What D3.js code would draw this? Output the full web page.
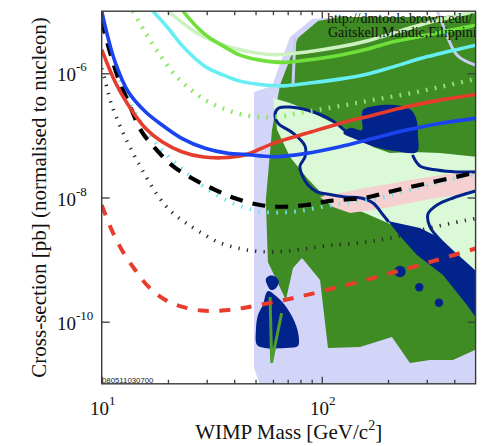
<!DOCTYPE html>
<html>
<head>
<meta charset="utf-8">
<script src="https://cdn.jsdelivr.net/npm/d3@7"></script>
<style>
  body { margin: 0; background: #fff; }
  svg { display: block; }
</style>
</head>
<body>
<svg id="chart" width="491" height="446"></svg>
<script>
// ---- axis ticks ----
const massMajorTicks = [10, 100];
const massMinorTicks = [20, 30, 40, 50, 60, 70, 80, 90, 200, 300, 400];
const massTickExponents = ["1", "2"];
const sigmaTicks = [1e-6, 1e-8, 1e-10];
const sigmaTickExponents = ["-6", "-8", "-10"];

// ---- limit curves: [WIMP mass GeV, cross-section pb] ----
const limitBlue = [[10,1.0e-5],[10.7,3.66e-6],[11.5,1.53e-6],[13.2,5.04e-7],[15.8,2.4e-7],[18.8,1.47e-7],[23.1,8.95e-8],[29.5,6.2e-8],[37.6,5.14e-8],[44.8,4.95e-8],[60.2,4.53e-8],[85.3,5.14e-8],[120.8,6.56e-8],[170.6,8.95e-8],[242.6,1.22e-7],[343.5,1.56e-7],[500,1.88e-7]];
const limitRed = [[10,2.4e-6],[11.5,7.3e-7],[13.2,3.08e-7],[15.8,1.3e-7],[18.8,7.9e-8],[23.1,5.46e-8],[28.5,4.53e-8],[35.1,4.36e-8],[44.8,4.83e-8],[60.2,7.45e-8],[85.3,1.08e-7],[120.8,1.56e-7],[171.5,2.12e-7],[242.6,2.89e-7],[343.5,3.7e-7],[500,4.57e-7]];
const limitCyan = [[17.1,1.0e-5],[20.1,5.27e-6],[23.1,2.84e-6],[26.6,1.73e-6],[30.5,1.2e-6],[35.1,9.6e-7],[42.5,7.48e-7],[52.4,6.62e-7],[66.8,6.28e-7],[85.3,6.87e-7],[120.8,8.05e-7],[165.3,9.96e-7],[210.9,1.27e-6],[299,1.84e-6],[500,2.84e-6]];
const limitGreen = [[23.4,1.0e-5],[26.6,5.96e-6],[30.5,3.86e-6],[35.1,2.84e-6],[42.5,1.96e-6],[52.4,1.63e-6],[66.8,1.5e-6],[85.3,1.63e-6],[120.8,1.96e-6],[165.3,2.51e-6],[210.9,3.21e-6],[299,4.11e-6],[500,5.96e-6]];
const limitPaleGreen = [[20.0,1.0e-5],[26.6,4.65e-6],[32.7,3.21e-6],[40.3,2.51e-6],[49.7,2.15e-6],[61.3,2.0e-6],[85.3,2.21e-6],[120.8,2.67e-6],[165.3,3.42e-6],[226,4.76e-6],[309,6.65e-6],[500,1.0e-5]];
const projGreenDotted = [[13.87,1.0e-5],[15.73,4.62e-6],[18.4,1.97e-6],[21.53,9.4e-7],[25.18,5.58e-7],[29.47,3.72e-7],[35.2,2.76e-7],[42.5,2.21e-7],[52.4,1.98e-7],[64.6,2.01e-7],[79.6,2.3e-7],[121,2.97e-7],[170.9,3.72e-7],[243.8,4.65e-7],[344.4,6.02e-7],[500,8.1e-7]];
const projBlackDashed = [[10,7.0e-6],[10.9,2.21e-6],[11.9,8.26e-7],[13.2,3.48e-7],[15.2,1.15e-7],[17.5,6.2e-8],[20.8,3.33e-8],[25.7,2.04e-8],[31.6,1.41e-8],[40.3,9.7e-9],[52.4,7.58e-9],[66.8,7.1e-9],[85.3,7.58e-9],[108.8,8.8e-9],[159.7,1.0e-8],[203.7,1.24e-8],[309.4,1.73e-8],[500,2.52e-8]];
const projCyanDotted = [[12.1,7.76e-7],[13.8,2.75e-7],[15.8,1.31e-7],[18.4,6.25e-8],[22.7,3.1e-8],[28.0,1.65e-8],[34.5,1.02e-8],[42.5,7.3e-9],[52.4,5.96e-9],[64.5,5.7e-9],[79.6,6.07e-9],[101,7.1e-9],[130,8.2e-9],[183.5,9.8e-9],[270,1.42e-8],[410,2.06e-8],[500,2.39e-8]];
const projBlackDotted = [[10,1.2e-6],[10.35,7.8e-7],[10.68,5.0e-7],[11.02,3.33e-7],[11.49,2.21e-7],[12.11,1.42e-7],[12.89,8.75e-8],[13.87,5.21e-8],[14.93,3.21e-8],[16.23,1.91e-8],[17.65,1.18e-8],[19.39,7.57e-9],[21.53,5.23e-9],[24.15,3.89e-9],[27.97,2.78e-9],[33.77,1.92e-9],[42.95,1.49e-9],[52.4,1.35e-9],[66.65,1.35e-9],[85.7,1.51e-9],[109,1.69e-9],[141.5,1.82e-9],[183.9,2.07e-9],[233.8,2.49e-9],[300.6,3.17e-9],[382.4,3.81e-9],[500,4.59e-9]];
const projRedDashed = [[10,7.58e-9],[11.1,3.0e-9],[12.35,1.43e-9],[14.2,6.8e-10],[16.3,3.67e-10],[19.4,2.25e-10],[23.1,1.75e-10],[28.5,1.51e-10],[35.1,1.51e-10],[43.3,1.65e-10],[52.4,1.87e-10],[64.5,2.16e-10],[79.6,2.54e-10],[101.5,3.13e-10],[129.6,3.92e-10],[159.7,4.71e-10],[190,5.67e-10],[234,6.83e-10],[288.4,8.5e-10],[355.6,1.05e-9],[500,1.51e-9]];

// ---- theory regions: [WIMP mass GeV, cross-section pb] ----
const regionLavender = [[49.2,5.0e-7],[59.4,6.25e-7],[71.7,3.85e-6],[90.3,7.49e-6],[121,8.07e-6],[520,8.07e-6],[520,8e-12],[53.4,8e-12],[49.2,1.8e-11]];
const regionGreen = [[77.9,3.7e-6],[96.1,6.95e-6],[121,8.07e-6],[333.8,8.07e-6],[520,9.7e-6],[520,3.77e-11],[394.5,2.42e-11],[310.2,2.42e-11],[251.6,2.16e-11],[208.4,5.66e-11],[149.1,3.91e-11],[106.7,3.77e-11],[98.2,4.7e-10],[81.3,1.06e-9],[74.0,7.33e-10],[68.7,2.24e-10],[56.9,9.15e-10],[55.7,9.12e-9],[59.4,1.22e-7],[64.6,6.49e-7]];
const regionLightGreen = [[60.0,4.0e-7],[71.7,3.33e-7],[85.7,2.56e-7],[112.4,1.58e-7],[144.5,9.42e-8],[170.9,6.5e-8],[204.1,5.21e-8],[259.6,5.41e-8],[344.4,5.21e-8],[520,4.49e-8],[520,5.65e-10],[411.3,1.1e-9],[310.2,1.85e-9],[204.1,3.75e-9],[157.0,5.63e-9],[121.0,8.16e-9],[101.3,1.1e-8],[85.7,2.06e-8],[71.7,4.49e-8],[62.7,1.22e-7]];
const regionPink = [[98.2,1.02e-8],[149.1,1.37e-8],[251.6,1.91e-8],[520,2.88e-8],[520,1.23e-8],[310.2,9.46e-9],[183.9,6.53e-9],[134.3,5.63e-9],[112.4,7.03e-9]];
const regionNavyIsland = [[153.8,2.56e-7],[174.5,2.97e-7],[215.1,3.09e-7],[251.6,2.66e-7],[267.9,1.9e-7],[273.5,1.01e-7],[270.7,5.41e-8],[215.1,5.61e-8],[174.5,6.5e-8],[141.5,8.75e-8],[125.3,1.09e-7],[134.3,1.32e-7],[152.3,1.22e-7],[152.3,1.77e-7]];
const regionNavyBand = [[199.8,4.19e-9],[279.3,3.23e-9],[344.4,2.23e-9],[402.8,1.33e-9],[520,5.86e-10],[520,9.9e-11],[456.7,1.86e-10],[355.3,5.65e-10],[270.7,1.19e-9],[226.6,2.4e-9]];
const regionNavyFoot = [[56.9,3.12e-10],[62.0,2.59e-10],[69.5,1.66e-10],[76.6,8.53e-11],[78.8,5.07e-11],[77.9,4.06e-11],[68.0,3.77e-11],[55.2,3.77e-11],[50.8,4.21e-11],[50.2,7.35e-11],[51.3,1.28e-10],[54.0,1.88e-10]];
const regionNavyHead = [[56.3,4.06e-10],[55.7,4.89e-10],[57.5,5.44e-10],[60.6,5.44e-10],[63.8,4.52e-10],[62.0,3.49e-10],[58.8,3.24e-10]];
const navySpots = [[226.6,6.43e-10],[277.3,3.58e-10],[340.8,2.02e-10]];
const greenStem = [[58.2,2.5e-10],[59.2,2.27e-11],[65.7,1.37e-10]];
const navyContourA = [[143.0,9.42e-8],[130.2,1.13e-7],[112.4,1.71e-7],[85.7,2.56e-7],[71.7,2.86e-7],[63.8,2.76e-7],[61.3,2.21e-7],[63.2,1.58e-7],[74.0,1.09e-7],[83.9,6.75e-8],[83.9,4.49e-8],[79.6,3.21e-8],[81.3,2.3e-8],[86.6,1.59e-8],[95.1,1.23e-8],[105.6,1.14e-8],[127.5,1.02e-8],[150.7,9.82e-9],[170.9,8.16e-9],[190,5.23e-9],[199.8,4.19e-9]];
const navyContourB = [[259.6,4.66e-8],[279.3,3.21e-8],[333.8,2.77e-8],[411.3,2.58e-8],[500,2.58e-8]];
const navyContourD = [[500,1.27e-8],[394.5,9.82e-9],[333.8,7.57e-9],[303.8,5.42e-9],[310.2,3.35e-9],[344.4,2.07e-9],[362.9,1.6e-9]];
const lavenderContour1 = [[333.8,1.04e-5],[355.3,6.0e-6],[411.3,1.97e-6],[500,1.35e-6]];
const lavenderContour2 = [[75.5,3.85e-6],[74.0,6.49e-7]];

// ---- scales ----
const svg = d3.select("#chart");
const x = d3.scaleLog().domain([10, 500]).range([101.7, 475.6]);
const y = d3.scaleLog().domain([1e-11, 1e-5]).range([383.8, 11.2]);
const [xL, xR] = x.range();
const [yB, yT] = y.range();

svg.append("rect").attr("width", 491).attr("height", 446).attr("fill", "#fff");

svg.append("defs").append("clipPath").attr("id", "plot-clip")
  .append("rect").attr("x", xL).attr("y", yT).attr("width", xR - xL).attr("height", yB - yT);

const plot = svg.append("g").attr("clip-path", "url(#plot-clip)");

const linePath = curve => d3.line().x(d => x(d[0])).y(d => y(d[1])).curve(curve);
const polyLinear = linePath(d3.curveLinearClosed);
const polySmooth = linePath(d3.curveCatmullRomClosed.alpha(0.5));
const openSmooth = linePath(d3.curveCatmullRom.alpha(0.5));
const openLinear = linePath(d3.curveLinear);

// filled regions, back to front
[
  { d: regionLavender, fill: "#d3d5f8", gen: polyLinear },
  { d: regionGreen, fill: "#3f8b24", gen: polyLinear },
  { d: regionLightGreen, fill: "#dbf8d7", gen: polyLinear },
  { d: regionPink, fill: "#f5d0d0", gen: polyLinear },
  { d: regionNavyIsland, fill: "#03238c", gen: polySmooth },
  { d: regionNavyBand, fill: "#03238c", gen: polyLinear },
  { d: regionNavyFoot, fill: "#03238c", gen: polySmooth },
  { d: regionNavyHead, fill: "#03238c", gen: polySmooth }
].forEach(r => plot.append("path").attr("d", r.gen(r.d)).attr("fill", r.fill));

const spotRadius = [5.8, 4.2, 4.2];
plot.selectAll("circle.spot").data(navySpots).join("circle")
  .attr("class", "spot")
  .attr("cx", d => x(d[0])).attr("cy", d => y(d[1]))
  .attr("r", (d, i) => spotRadius[i]).attr("fill", "#03238c");

// contour outlines
[
  { d: navyContourA, stroke: "#03238c", w: 3 },
  { d: navyContourB, stroke: "#03238c", w: 3 },
  { d: navyContourD, stroke: "#03238c", w: 3 },
  { d: lavenderContour1, stroke: "#c9cbf3", w: 3 },
  { d: lavenderContour2, stroke: "#c9cbf3", w: 3 }
].forEach(c => plot.append("path").attr("d", openSmooth(c.d))
  .attr("fill", "none").attr("stroke", c.stroke).attr("stroke-width", c.w)
  .attr("stroke-linecap", "round").attr("stroke-linejoin", "round"));

plot.append("path").attr("d", openLinear(greenStem))
  .attr("fill", "none").attr("stroke", "#4f9b2e").attr("stroke-width", 3)
  .attr("stroke-linejoin", "round");

// limit curves
[
  { d: projBlackDotted, stroke: "#2a2a2a", w: 3.6, dash: "1.3,7.2" },
  { d: projRedDashed, stroke: "#e83c2c", w: 4, dash: "11,10.5" },
  { d: projCyanDotted, stroke: "#74e4f0", w: 4, dash: "1.6,7.4" },
  { d: projBlackDashed, stroke: "#000", w: 4.2, dash: "13,10" },
  { d: projGreenDotted, stroke: "#8ae866", w: 4.4, dash: "1.8,7.2" },
  { d: limitPaleGreen, stroke: "#cdf2c0", w: 3.6 },
  { d: limitGreen, stroke: "#6fe03a", w: 3.6 },
  { d: limitCyan, stroke: "#66eef2", w: 3.6 },
  { d: limitRed, stroke: "#e63c2c", w: 3.6 },
  { d: limitBlue, stroke: "#1a44f0", w: 3.6 }
].forEach(c => {
  const p = plot.append("path").attr("d", openSmooth(c.d))
    .attr("fill", "none").attr("stroke", c.stroke).attr("stroke-width", c.w);
  if (c.dash) p.attr("stroke-dasharray", c.dash);
});

// credit text in the corner
const credit = plot.append("g").attr("font-family", "Liberation Serif, 'Times New Roman', serif")
  .attr("font-size", 14).attr("fill", "#111");
credit.append("text").attr("x", 327).attr("y", 23).text("http://dmtools.brown.edu/");
credit.append("text").attr("x", 328).attr("y", 37).text("Gaitskell,Mandic,Filippini");

svg.append("text").attr("x", 102).attr("y", 383)
  .attr("font-family", "Liberation Sans, Arial, sans-serif").attr("font-size", 7.8)
  .attr("fill", "#222").text("080511030700");

// frame
svg.append("rect").attr("x", xL).attr("y", yT).attr("width", xR - xL).attr("height", yB - yT)
  .attr("fill", "none").attr("stroke", "#3a3a3a").attr("stroke-width", 1.4);

// ticks (inward)
function tickSet(axis, values, size, transform) {
  const g = svg.append("g").attr("transform", transform)
    .call(axis.tickValues(values).tickSizeInner(size).tickSizeOuter(0).tickFormat(""));
  g.select(".domain").remove();
  g.selectAll(".tick text").remove();
  g.selectAll(".tick line").attr("stroke", "#3a3a3a").attr("stroke-width", 1.3);
}
tickSet(d3.axisBottom(x), massMinorTicks, -4, `translate(0,${yB})`);
tickSet(d3.axisBottom(x), massMajorTicks, -7, `translate(0,${yB})`);
tickSet(d3.axisTop(x), massMinorTicks, -4, `translate(0,${yT})`);
tickSet(d3.axisTop(x), massMajorTicks, -7, `translate(0,${yT})`);
tickSet(d3.axisLeft(y), sigmaTicks, -8, `translate(${xL},0)`);
tickSet(d3.axisRight(y), sigmaTicks, -8, `translate(${xR},0)`);

// tick labels
const serif = "Liberation Serif, 'Times New Roman', serif";
const labels = svg.append("g").attr("font-family", serif).attr("fill", "#111");
massMajorTicks.forEach((v, i) => {
  const t = labels.append("text").attr("x", x(v) + 1).attr("y", 415)
    .attr("text-anchor", "middle").attr("font-size", 19);
  t.append("tspan").text("10");
  t.append("tspan").attr("font-size", 13).attr("dy", -10).text(massTickExponents[i]);
});
sigmaTicks.forEach((v, i) => {
  const t = labels.append("text").attr("x", 57).attr("y", y(v) + 8)
    .attr("font-size", 19);
  t.append("tspan").text("10");
  t.append("tspan").attr("font-size", 13).attr("dy", -10).text(sigmaTickExponents[i]);
});

// axis titles
const xt = labels.append("text").attr("x", (xL + xR) / 2).attr("y", 439)
  .attr("text-anchor", "middle").attr("font-size", 21);
xt.append("tspan").text("WIMP Mass [GeV/c");
xt.append("tspan").attr("font-size", 14).attr("dy", -9).text("2");
xt.append("tspan").attr("dy", 9).text("]");

labels.append("text")
  .attr("transform", `translate(46,${(yT + yB) / 2}) rotate(-90)`)
  .attr("text-anchor", "middle").attr("font-size", 21)
  .text("Cross-section [pb] (normalised to nucleon)");
</script>
</body>
</html>
